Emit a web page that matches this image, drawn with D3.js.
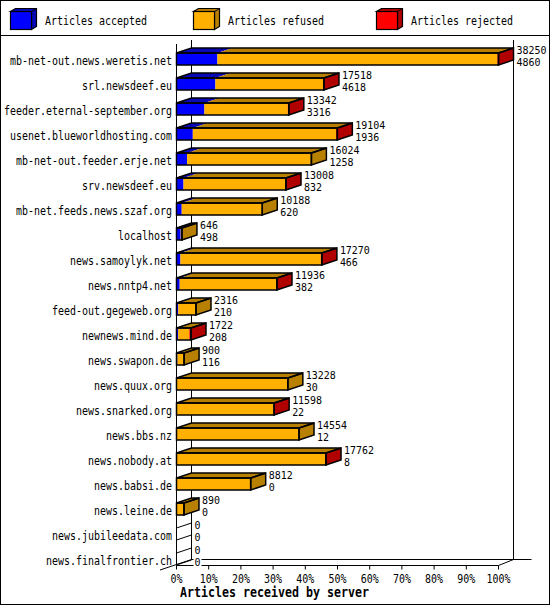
<!DOCTYPE html>
<html>
<head>
<meta charset="utf-8">
<script src="https://cdn.jsdelivr.net/npm/d3@7"></script>
<style>
  body { margin: 0; background: #fff; }
  text { font-family: "DejaVu Sans Mono", monospace; font-size: 12.5px; fill: #000; }
  .val { font-size: 10.2px; }
</style>
</head>
<body>
<div id="chart"></div>
<script>
const servers = [
    "mb-net-out.news.weretis.net", "srl.newsdeef.eu", "feeder.eternal-september.org",
    "usenet.blueworldhosting.com", "mb-net-out.feeder.erje.net", "srv.newsdeef.eu",
    "mb-net.feeds.news.szaf.org", "localhost", "news.samoylyk.net", "news.nntp4.net",
    "feed-out.gegeweb.org", "newnews.mind.de", "news.swapon.de", "news.quux.org",
    "news.snarked.org", "news.bbs.nz", "news.nobody.at", "news.babsi.de",
    "news.leine.de", "news.jubileedata.com", "news.finalfrontier.ch"
];
const accepted = [4860, 4618, 3316, 1936, 1258, 832, 620, 498, 466, 382, 210, 208, 116, 30, 22, 12, 8, 0, 0, 0, 0];
const refused  = [33270, 12800, 9906, 17018, 14766, 12066, 9568, 148, 16674, 11464, 2106, 1314, 784, 13198, 11496, 14542, 17654, 8812, 890, 0, 0];
const rejected = [120, 100, 120, 150, 0, 110, 0, 0, 130, 90, 0, 200, 0, 0, 80, 0, 100, 0, 0, 0, 0];
const seriesNames = ["Articles accepted", "Articles refused", "Articles rejected"];
const percentTicks = [0, 10, 20, 30, 40, 50, 60, 70, 80, 90, 100];
const xTitle = "Articles received by server";

const colors = ["#0000ff", "#ffb000", "#ff0000"];
const darks  = ["#0808b8", "#b88000", "#b00000"];

const W = 550, H = 605;
const DX = 15, DY = 5;       // bar depth
const FDX = 15, FDY = 6;     // floor / wall depth

const svg = d3.select("#chart").append("svg").attr("width", W).attr("height", H);

function mono(sel, str, pxPerChar) {
    sel.text(str).attr("textLength", str.length * pxPerChar).attr("lengthAdjust", "spacingAndGlyphs");
    return sel;
}

// frame
svg.append("rect").attr("x", 0.5).attr("y", 0.5).attr("width", W - 1).attr("height", H - 1)
    .attr("fill", "#fff").attr("stroke", "#000");
svg.append("line").attr("x1", 0).attr("x2", W).attr("y1", 35.5).attr("y2", 35.5).attr("stroke", "#000");

// legend
seriesNames.forEach((name, i) => {
    const lx = 10.5 + i * 183, ly = 11.5, lw = 21, lh = 18, ldx = 5, ldy = 3;
    const g = svg.append("g");
    g.append("polygon").attr("points", [[lx, ly], [lx + ldx, ly - ldy], [lx + lw + ldx, ly - ldy], [lx + lw + ldx, ly + lh - ldy], [lx + lw, ly + lh], [lx + lw, ly]].join(" "))
        .attr("fill", darks[i]).attr("stroke", "#000").attr("stroke-width", 1.2);
    g.append("rect").attr("x", lx).attr("y", ly).attr("width", lw).attr("height", lh)
        .attr("fill", colors[i]).attr("stroke", "#000").attr("stroke-width", 1.2);
    g.append("line").attr("x1", lx + lw).attr("y1", ly).attr("x2", lx + lw + ldx).attr("y2", ly - ldy).attr("stroke", "#000");
    mono(g.append("text").attr("x", 45 + i * 183).attr("y", 20.5).attr("dominant-baseline", "central"), name, 6);
});

// scales
const totals = servers.map((d, i) => accepted[i] + refused[i] + rejected[i]);
const maxTotal = d3.max(totals);
const x = d3.scaleLinear().domain([0, 100]).range([176.5, 498.5]);
const y = d3.scaleBand().domain(servers).range([46.5, 571.5]).padding(0);
const pct = v => v / maxTotal * 100;

const x0 = x(0), x100 = x(100);
const floorY = 565.5;

// back wall & floor
const axes = svg.append("g").attr("stroke", "#000").attr("fill", "none");
axes.append("line").attr("x1", x0 + FDX).attr("x2", x0 + FDX).attr("y1", 40).attr("y2", floorY - FDY);
axes.append("line").attr("x1", x100 + FDX).attr("x2", x100 + FDX).attr("y1", 40).attr("y2", floorY - FDY);
axes.append("line").attr("x1", x0 + FDX).attr("x2", x100 + FDX + 18).attr("y1", floorY - FDY).attr("y2", floorY - FDY);
axes.append("line").attr("x1", x0 + FDX).attr("y1", floorY - FDY).attr("x2", 160).attr("y2", floorY + 4.5);
axes.append("line").attr("x1", x100).attr("y1", floorY).attr("x2", x100 + FDX).attr("y2", floorY - FDY);
axes.append("line").attr("x1", x0).attr("x2", x0).attr("y1", 44).attr("y2", floorY);
axes.append("line").attr("x1", x0).attr("x2", x100).attr("y1", floorY).attr("y2", floorY);

// x ticks
percentTicks.forEach(t => {
    axes.append("line").attr("x1", x(t)).attr("x2", x(t)).attr("y1", floorY).attr("y2", floorY + 4);
    mono(svg.append("text").attr("x", x(t)).attr("y", 578).attr("text-anchor", "middle").attr("dominant-baseline", "central"), t + "%", 6);
});
mono(svg.append("text").attr("x", 180).attr("y", 592).attr("dominant-baseline", "central")
    .attr("font-weight", "bold").style("font-size", "13.5px"), xTitle, 7);

// value label with a white patch behind it so lines pass around the digits
function valueLabel(g, lx, ly, str) {
    const bg = g.append("rect").attr("fill", "#fff");
    const t = mono(g.append("text").attr("class", "val").attr("x", lx).attr("y", ly).attr("dominant-baseline", "central"), str, 6);
    const bb = t.node().getBBox();
    bg.attr("x", bb.x - 1).attr("y", ly - 4.5).attr("width", bb.width + 2).attr("height", 9);
}

// bars
servers.forEach((name, i) => {
    const c = y(name) + y.bandwidth() / 2;
    const top = c - 6, bot = c + 6;
    const g = svg.append("g");
    mono(g.append("text").attr("x", 172).attr("y", c + 1).attr("text-anchor", "end").attr("dominant-baseline", "central"), name, 6);

    const vals = [accepted[i], refused[i], rejected[i]];
    let acc = 0, last = -1;
    const segs = vals.map((v, k) => {
        const s = { k, a: x(pct(acc)), b: x(pct(acc + v)) };
        acc += v;
        if (v > 0) last = k;
        return s;
    });
    const xe = x(pct(totals[i]));

    if (totals[i] > 0) {
        segs.filter(s => s.b > s.a).forEach(s => {
            g.append("polygon").attr("points", [[s.a, top], [s.a + DX, top - DY], [s.b + DX, top - DY], [s.b, top]].join(" "))
                .attr("fill", darks[s.k]);
            g.append("rect").attr("x", s.a).attr("y", top).attr("width", s.b - s.a).attr("height", bot - top)
                .attr("fill", colors[s.k]);
        });
        g.append("polygon").attr("points", [[xe, top], [xe + DX, top - DY], [xe + DX, bot - DY], [xe, bot]].join(" "))
            .attr("fill", darks[last]).attr("stroke", "#000").attr("stroke-width", 1.5);
        g.append("polygon").attr("points", [[x0, top], [x0 + DX, top - DY], [xe + DX, top - DY], [xe, top]].join(" "))
            .attr("fill", "none").attr("stroke", "#000").attr("stroke-width", 1.5);
        g.append("rect").attr("x", x0).attr("y", top).attr("width", xe - x0).attr("height", bot - top)
            .attr("fill", "none").attr("stroke", "#000").attr("stroke-width", 1.5);
    } else {
        g.append("polygon").attr("points", [[xe, top], [xe + DX, top - DY], [xe + DX, bot - DY], [xe, bot]].join(" "))
            .attr("fill", "none").attr("stroke", "#000");
    }

    const lx = xe + DX + 3;
    valueLabel(g, lx, c - 8.75, String(totals[i]));
    valueLabel(g, lx, c + 3.75, String(accepted[i]));
});
</script>
</body>
</html>
